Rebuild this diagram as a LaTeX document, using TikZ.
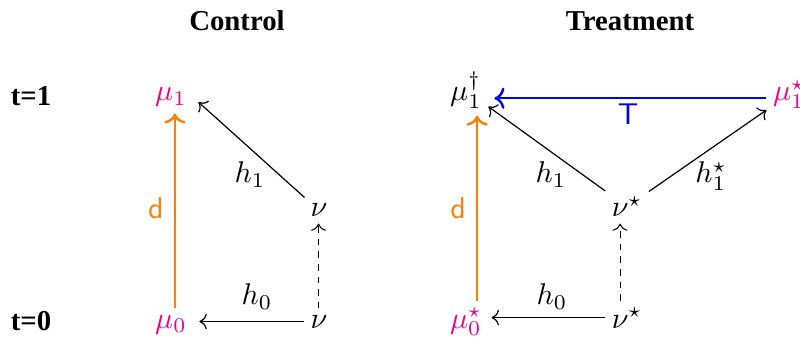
\documentclass[tikz,border=0pt]{standalone}
\usepackage{fontspec}
\usepackage{amsmath}
\usetikzlibrary{arrows.meta}
\newfontfamily\headfont{Liberation Serif}
\definecolor{mupink}{RGB}{236,0,140}
\definecolor{dorange}{RGB}{255,128,0}
\tikzset{
  obj/.style={anchor=base, inner sep=2pt},
  head/.style={anchor=base, font=\headfont\bfseries\fontsize{9.6}{11}\selectfont},
  lbl/.style={anchor=base},
  map/.style={->, thin},
  lift/.style={->, line width=0.35pt, dash pattern=on 2.2pt off 2pt},
  dmap/.style={->, thick, dorange},
  tmap/.style={->, thick, blue},
}

\begin{document}
\begin{tikzpicture}[x=0.3333pt, y=-0.3333pt, >=To]
  \useasboundingbox (0,0) rectangle (800,337);
  % headings
  \node[head] (ctrl)  at (237,31)  {Control};
  \node[head] (treat) at (630,31)  {Treatment};
  \node[head] (tone)  at (31,106)  {t=1};
  \node[head] (tzero) at (31,330)  {t=0};
  % control
  \node[obj, mupink] (cmu1) at (171,101) {$\mu_1$};
  \node[obj, mupink] (cmu0) at (171,328) {$\mu_0$};
  \node[obj] (cnu1) at (319,217) {$\nu$};
  \node[obj] (cnu0) at (319,328) {$\nu$};
  \draw[map, shorten >=2.3pt] (cnu1) -- (cmu1.east);
  \draw[lift] ([xshift=-0.15pt]cnu0.north) -- ([xshift=-0.15pt]cnu1.south);
  \draw[map, shorten >=2pt] (cnu0.west) -- (cmu0.east |- cnu0.west);
  \draw[dmap] ([xshift=1.3pt]cmu0.north) -- ([xshift=1.3pt]cmu1.south);
  \node[lbl] (ch1) at (250,183) {$h_1$};
  \node[lbl] (ch0) at (257,305) {$h_0$};
  \node[lbl, dorange] (cd) at (156,219) {\textsf{d}};
  % treatment
  \node[obj] (tmu1d) at (466,101) {$\mu_1^\dagger$};
  \node[obj, mupink] (tmu1s) at (789,101) {$\mu_1^\star$};
  \node[obj, mupink] (tmu0) at (466,328) {$\mu_0^\star$};
  \node[obj] (tnu1) at (627,217) {$\nu^\star$};
  \node[obj] (tnu0) at (627,328) {$\nu^\star$};
  \coordinate (tline) at ([yshift=-1.3pt]tmu1s.west);
  \draw[tmap, shorten >=2pt] (tline) -- (tline -| tmu1d.east);
  \draw[map] (tnu1) -- (tmu1d);
  \draw[map] (tnu1) -- (tmu1s);
  \draw[lift] ([xshift=-2.3pt]tnu0.north) -- ([xshift=-2.3pt]tnu1.south);
  \draw[map, shorten >=1pt] (tnu0.west) -- (tmu0.east |- tnu0.west);
  \draw[dmap] ([xshift=3.7pt]tmu0.north) -- ([xshift=3.7pt]tmu1d.south);
  \node[lbl, blue] (tT) at (628,125) {\textsf{T}};
  \node[lbl] (th1) at (551,183) {$h_1$};
  \node[lbl] (th1s) at (711,183) {$h_1^\star$};
  \node[lbl] (th0) at (552,305) {$h_0$};
  \node[lbl, dorange] (td) at (458,219) {\textsf{d}};
\end{tikzpicture}
\end{document}
